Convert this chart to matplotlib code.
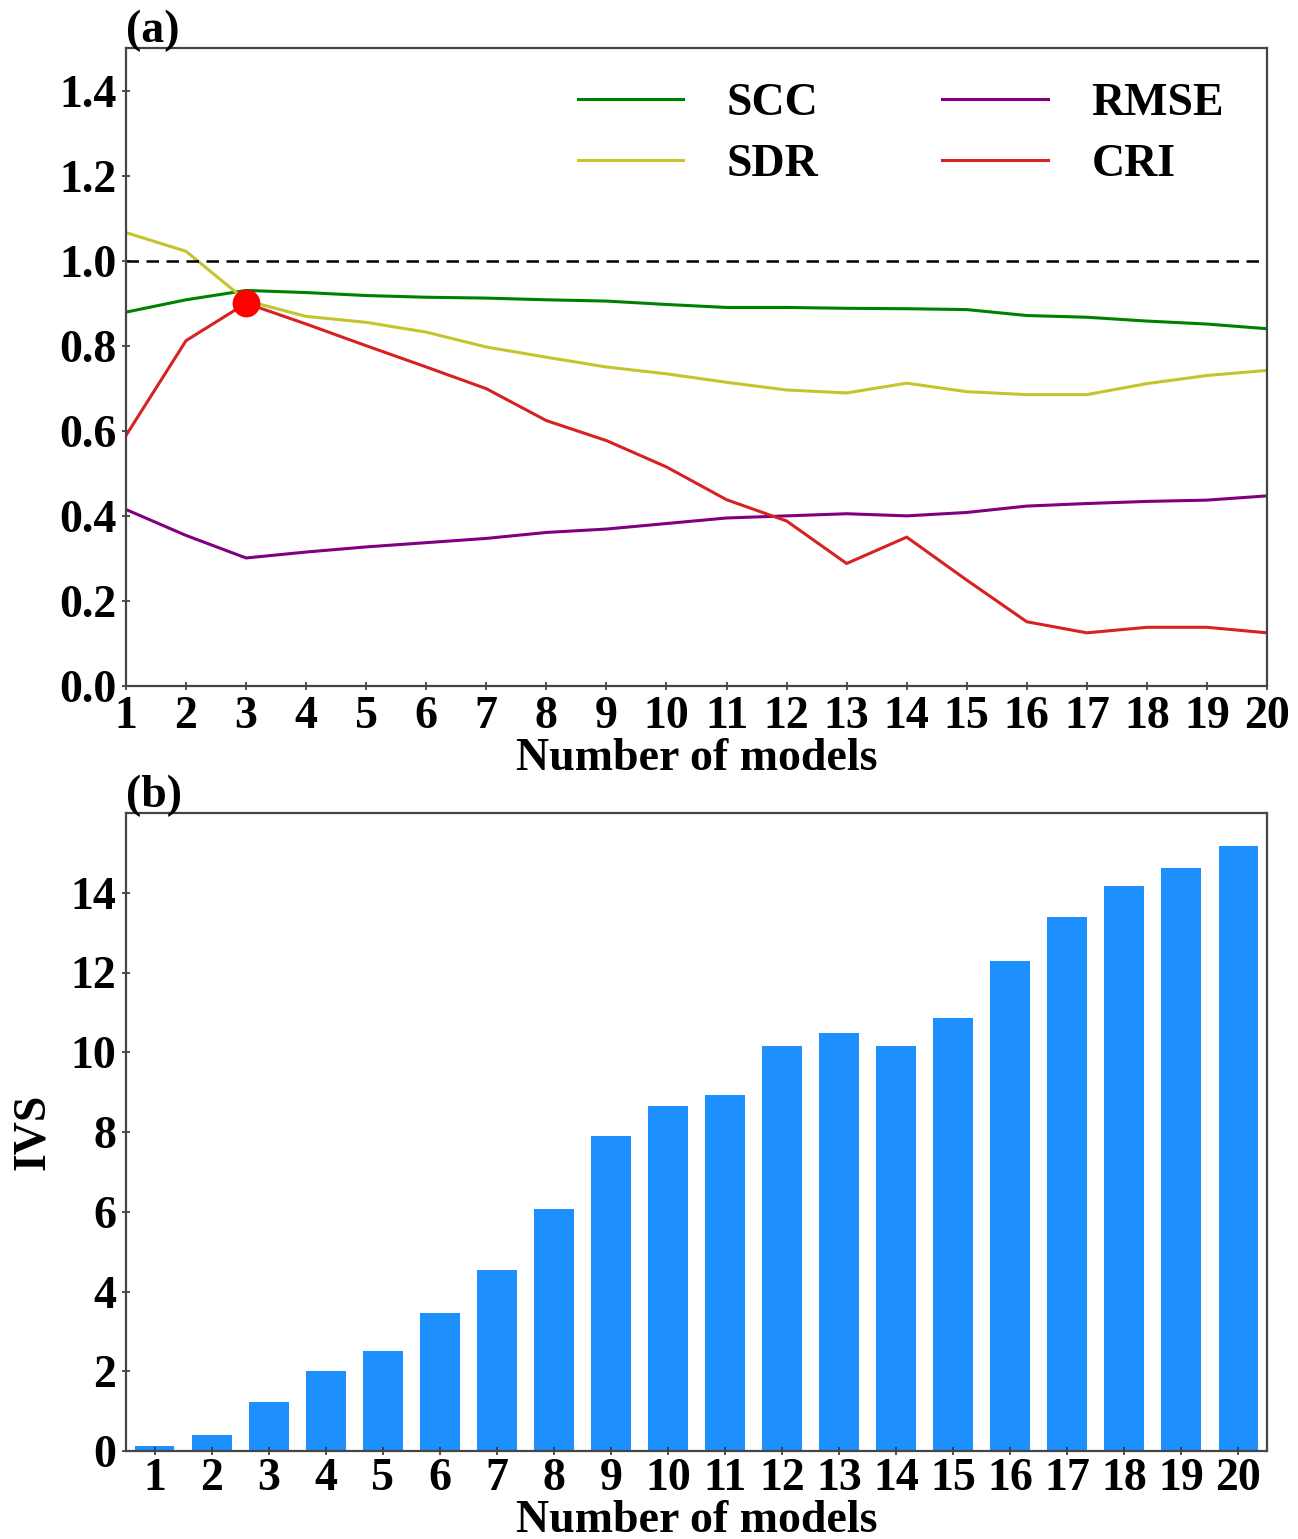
import matplotlib
matplotlib.use("Agg")
import matplotlib.pyplot as plt
import numpy as np

# Number of ensemble members
n_models = list(range(1, 21))

# Panel (a): skill metrics vs. number of models
scc = [0.879, 0.908, 0.930, 0.925, 0.918, 0.914, 0.912, 0.908, 0.905, 0.897,
       0.890, 0.890, 0.888, 0.887, 0.885, 0.871, 0.867, 0.858, 0.851, 0.840]
sdr = [1.066, 1.022, 0.906, 0.869, 0.855, 0.832, 0.797, 0.773, 0.750, 0.734,
       0.714, 0.696, 0.689, 0.712, 0.692, 0.685, 0.685, 0.711, 0.730, 0.742]
rmse = [0.415, 0.354, 0.301, 0.315, 0.327, 0.337, 0.347, 0.361, 0.369, 0.382,
        0.395, 0.400, 0.405, 0.400, 0.408, 0.423, 0.429, 0.434, 0.437, 0.447]
cri = [0.589, 0.812, 0.900, 0.851, 0.800, 0.750, 0.699, 0.624, 0.577, 0.515,
       0.438, 0.388, 0.288, 0.350, 0.249, 0.151, 0.125, 0.138, 0.138, 0.125]
best_n = 3

# Panel (b): IVS vs. number of models
ivs = [0.12, 0.40, 1.23, 2.01, 2.51, 3.47, 4.55, 6.08, 7.90, 8.65,
       8.93, 10.16, 10.49, 10.16, 10.87, 12.28, 13.38, 14.16, 14.63, 15.18]

plt.rcParams['font.family'] = ['Liberation Serif', 'DejaVu Serif']
plt.rcParams['font.weight'] = 'bold'
plt.rcParams['axes.labelweight'] = 'bold'

FS = 33
W, H = 1298, 1539
fig = plt.figure(figsize=(W / 100, H / 100), dpi=100)

ax1 = fig.add_axes([126 / W, (H - 686) / H, 1141 / W, 638 / H])
ax2 = fig.add_axes([126 / W, (H - 1451) / H, 1141 / W, 638 / H])

# ---- (a) ----
ax1.plot(n_models, scc, color='green', lw=2.2, label='SCC')
ax1.plot(n_models, sdr, color='#c4c42c', lw=2.2, label='SDR')
ax1.plot(n_models, rmse, color='purple', lw=2.2, label='RMSE')
ax1.plot(n_models, cri, color='#d62222', lw=2.2, label='CRI')
ax1.axhline(1.0, color='black', lw=1.8, ls=(0, (5, 3)))
ax1.plot(best_n, cri[best_n - 1], 'o', color='red', ms=19, zorder=5)

ax1.set_xlim(1, 20)
ax1.set_ylim(0, 1.5)
ax1.set_xticks(n_models)
ax1.set_yticks(np.arange(0, 1.41, 0.2))
ax1.set_yticklabels([f"{v:.1f}" for v in np.arange(0, 1.41, 0.2)])
ax1.set_xlabel('Number of models', fontsize=FS, labelpad=0)
ax1.text(0.0, 0.994, '(a)', transform=ax1.transAxes, fontsize=FS,
         fontweight='bold', ha='left', va='bottom')

leg = ax1.legend(ncol=2, loc='upper right',
                 bbox_to_anchor=((1224 - 126) / 1141, 1 - 35 / 638),
                 borderaxespad=0, borderpad=0,
                 frameon=False, fontsize=FS, handlelength=2.3,
                 handletextpad=0.95, columnspacing=2.7, labelspacing=0.42)

# ---- (b) ----
ax2.bar(n_models, ivs, width=0.7, color='#1e8fff')
ax2.set_xlim(0.5, 20.5)
ax2.set_ylim(0, 16)
ax2.set_xticks(n_models)
ax2.set_yticks(range(0, 15, 2))
ax2.set_xlabel('Number of models', fontsize=FS, labelpad=0)
ax2.set_ylabel('IVS', fontsize=FS, labelpad=12)
ax2.text(0.0, 0.994, '(b)', transform=ax2.transAxes, fontsize=FS,
         fontweight='bold', ha='left', va='bottom')

for ax in (ax1, ax2):
    for sp in ax.spines.values():
        sp.set_color('#444444')
        sp.set_linewidth(1.6)
    ax.tick_params(axis='both', direction='inout', length=6, width=1.2,
                   color='#333333', labelsize=FS, pad=4)
    for lbl in ax.get_xticklabels() + ax.get_yticklabels():
        lbl.set_fontweight('bold')
ax2.tick_params(axis='x', pad=2)

fig.savefig('out.png', dpi=100)
